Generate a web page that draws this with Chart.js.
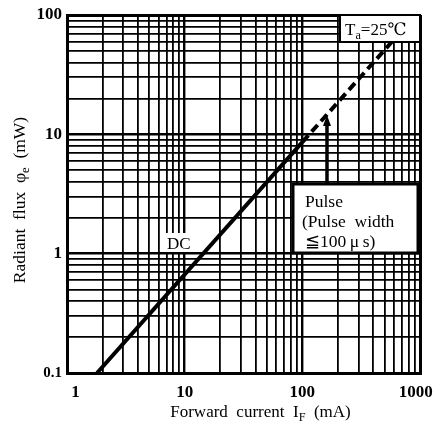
<!DOCTYPE html>
<html>
<head>
<meta charset="utf-8">
<script src="https://cdn.jsdelivr.net/npm/chart.js@4.4.0/dist/chart.umd.min.js"></script>
<style>
  body { margin: 0; background: #fff; }
  #wrap { width: 435px; height: 424px; }
</style>
</head>
<body>
<div id="wrap"><canvas id="fluxChart"></canvas></div>
<script>
// data
var dcCurrent = [1.8, 100];
var dcFlux = [0.1, 8.6];
var pulseCurrent = [100, 580];
var pulseFlux = [8.6, 60];

var xTicks = [1,2,3,4,5,6,7,8,9,10,20,30,40,50,60,70,80,90,100,200,300,400,500,600,700,800,900,1000];
var yTicks = [0.1,0.2,0.3,0.4,0.5,0.6,0.7,0.8,0.9,1,2,3,4,5,6,7,8,9,10,20,30,40,50,60,70,80,90,100];
var xLabels = [1, 10, 100, 1000];
var yLabels = [0.1, 1, 10, 100];

var serif = "'Liberation Serif', 'DejaVu Serif', serif";

function toPoints(xs, ys) {
  return xs.map(function(x, i) { return {x: x, y: ys[i]}; });
}

function isDecade(v) {
  var l = Math.log10(v);
  return Math.abs(l - Math.round(l)) < 1e-9;
}

function gridWidth(ctx, lo, hi) {
  if (!ctx.tick) return 1.8;
  var v = ctx.tick.value;
  if (Math.abs(v - lo) < 1e-9 || Math.abs(v - hi) < 1e-9) return 3;
  return isDecade(v) ? 2.4 : 1.8;
}

// draws text with a lowered small part, e.g. T + a
function drawSub(ctx, parts, x, y, size) {
  var cx = x;
  parts.forEach(function(p) {
    var s = p.sub ? size * 0.72 : size;
    ctx.font = s + 'px ' + serif;
    ctx.fillText(p.t, cx, p.sub ? y + size * 0.22 : y);
    cx += ctx.measureText(p.t).width;
  });
  return cx;
}

function partsWidth(ctx, parts, size) {
  var w = 0;
  parts.forEach(function(p) {
    ctx.font = (p.sub ? size * 0.72 : size) + 'px ' + serif;
    w += ctx.measureText(p.t).width;
  });
  return w;
}

var notes = {
  id: 'notes',
  beforeDatasetsDraw: function(chart) {
    // blank the grid behind the DC label, the line stays on top
    var ctx = chart.ctx;
    ctx.save();
    ctx.fillStyle = '#fff';
    ctx.fillRect(165, 233, 38, 19);
    ctx.restore();
  },
  afterDraw: function(chart) {
    var ctx = chart.ctx;
    var a = chart.chartArea;
    var xs = chart.scales.x, ys = chart.scales.y;
    ctx.save();
    ctx.fillStyle = '#000';
    ctx.strokeStyle = '#000';
    ctx.textBaseline = 'alphabetic';
    ctx.textAlign = 'left';

    // Ta box
    ctx.fillStyle = '#fff';
    ctx.fillRect(a.right - 80, a.top, 80, 27);
    ctx.lineWidth = 2;
    ctx.strokeRect(a.right - 80, a.top, 80, 27);
    ctx.fillStyle = '#000';
    drawSub(ctx, [{t: 'T'}, {t: 'a', sub: true}, {t: '=25℃'}], a.right - 75, a.top + 20, 17);

    // arrow to the pulse line
    var ax = xs.getPixelForValue(162);
    var tipY = ys.getPixelForValue(14.5);
    var boxTop = 184;
    ctx.lineWidth = 3.5;
    ctx.beginPath();
    ctx.moveTo(ax, boxTop);
    ctx.lineTo(ax, tipY + 8);
    ctx.stroke();
    ctx.beginPath();
    ctx.moveTo(ax, tipY);
    ctx.lineTo(ax - 4, tipY + 11);
    ctx.lineTo(ax + 4, tipY + 11);
    ctx.closePath();
    ctx.fill();

    // Pulse box
    ctx.fillStyle = '#fff';
    ctx.fillRect(293, boxTop, 125, 69);
    ctx.lineWidth = 3;
    ctx.strokeRect(293, boxTop, 125, 69);
    ctx.fillStyle = '#000';
    ctx.font = '17.5px ' + serif;
    ctx.fillText('Pulse', 305, 207);
    ctx.fillText('(Pulse  width', 302, 227);
    ctx.fillText('\u2266100\u2009\u03bc\u2009s)', 305, 247);

    // DC label
    ctx.font = '17px ' + serif;
    ctx.fillText('DC', 167, 249);

    // x title
    var xp = [{t: 'Forward  current  I'}, {t: 'F', sub: true}, {t: '  (mA)'}];
    var xw = partsWidth(ctx, xp, 17);
    drawSub(ctx, xp, 173 + (175 - xw) / 2, 417, 17);

    // y title
    var yp = [{t: 'Radiant  flux  \u03c6'}, {t: 'e', sub: true}, {t: '  (mW)'}];
    var yw = partsWidth(ctx, yp, 17.5);
    ctx.translate(25, 200);
    ctx.rotate(-Math.PI / 2);
    drawSub(ctx, yp, -yw / 2, 0, 17.5);
    ctx.restore();
  }
};

function printChart() {
  var ctx = document.getElementById('fluxChart');
  new Chart(ctx, {
    type: 'line',
    data: {
      datasets: [{
        label: 'DC',
        data: toPoints(dcCurrent, dcFlux),
        borderColor: '#000',
        borderWidth: 4,
        pointRadius: 0,
        fill: false
      }, {
        label: 'Pulse',
        data: toPoints(pulseCurrent, pulseFlux),
        borderColor: '#000',
        borderWidth: 4,
        borderDash: [9, 5],
        pointRadius: 0,
        fill: false
      }]
    },
    options: {
      responsive: true,
      maintainAspectRatio: false,
      animation: false,
      layout: { padding: { top: 15, right: 15, left: 0, bottom: 0 } },
      plugins: { legend: { display: false }, tooltip: { enabled: false } },
      scales: {
        x: {
          type: 'logarithmic',
          min: 1, max: 1000,
          afterBuildTicks: function(s) { s.ticks = xTicks.map(function(v) { return {value: v}; }); },
          afterFit: function(s) { s.height = 51; s.paddingLeft = 0; s.paddingRight = 0; },
          ticks: {
            autoSkip: false, maxRotation: 0, color: '#000', padding: 9,
            font: { family: serif, size: 17, weight: 'bold' },
            callback: function(v) {
              if (xLabels.indexOf(v) < 0) return '';
              if (v === 1) return '\u2007\u20071';
              if (v === 1000) return '1000\u2007';
              return String(v);
            }
          },
          grid: { color: '#000', lineWidth: function(c) { return gridWidth(c, 1, 1000); }, drawTicks: false },
          border: { color: '#000', width: 3 }
        },
        y: {
          type: 'logarithmic',
          min: 0.1, max: 100,
          afterBuildTicks: function(s) { s.ticks = yTicks.map(function(v) { return {value: v}; }); },
          afterFit: function(s) { s.width = 67; s.paddingTop = 0; s.paddingBottom = 0; },
          ticks: {
            autoSkip: false, color: '#000', padding: 5,
            font: function(c) {
              var small = c.tick && c.tick.value === 0.1;
              return { family: serif, size: small ? 15 : 17, weight: 'bold' };
            },
            callback: function(v) { return yLabels.indexOf(v) >= 0 ? String(v) : ''; }
          },
          grid: { color: '#000', lineWidth: function(c) { return gridWidth(c, 0.1, 100); }, drawTicks: false },
          border: { color: '#000', width: 3 }
        }
      }
    },
    plugins: [notes]
  });
}

printChart();
</script>
</body>
</html>
